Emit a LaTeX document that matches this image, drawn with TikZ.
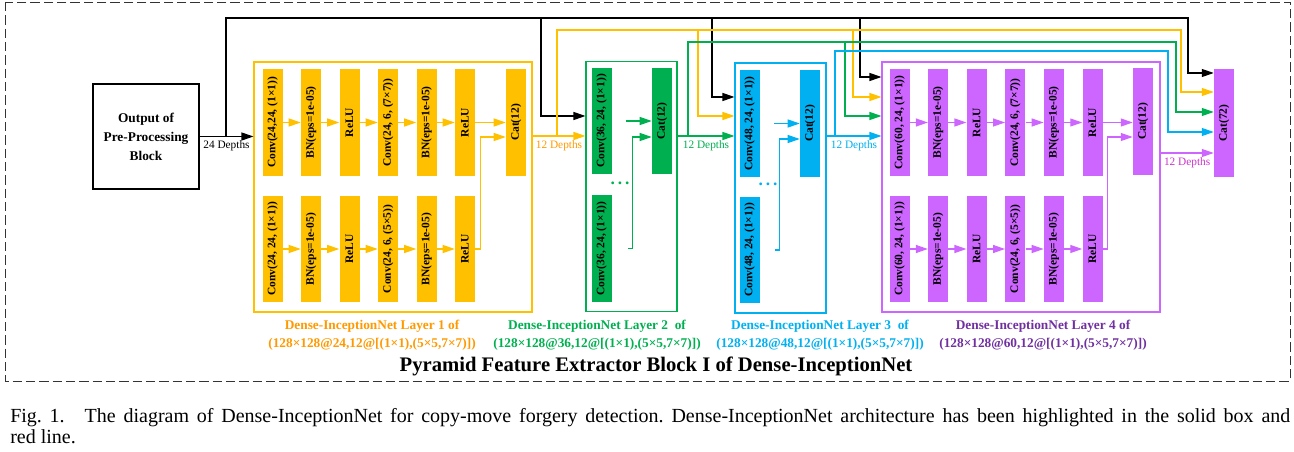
\documentclass[tikz,border=0pt]{standalone}
\usepackage{fontspec}
\setmainfont{Liberation Serif}
\usetikzlibrary{arrows.meta}
\definecolor{dinorange}{RGB}{255,192,0}
\definecolor{dintextorange}{RGB}{255,153,0}
\definecolor{dingreen}{RGB}{0,176,80}
\definecolor{dinblue}{RGB}{0,176,240}
\definecolor{dinviolet}{RGB}{204,102,255}
\definecolor{dintextviolet}{RGB}{112,48,160}
\definecolor{dinmagenta}{RGB}{204,51,204}
\frenchspacing

\begin{document}
\begin{tikzpicture}[x=0.75pt,y=-0.75pt,
    blk/.style={fill=#1,minimum width=15pt,minimum height=80pt,inner sep=0pt,
      font=\bfseries\fontsize{8.6}{9}\selectfont},
    lyr/.style={draw=#1,line width=0.8pt,minimum height=187.5pt,inner sep=0pt},
    flow/.style={draw=#1,line width=0.9pt,-{Triangle[length=9pt,width=6pt,color=#1]}},
    depth/.style={font=\fontsize{8.5}{10}\selectfont,text=#1,below,inner sep=3pt},
    cap/.style={font=\bfseries\fontsize{10}{13.5}\selectfont,text=#1,align=center},
    dots/.style={text=#1,font=\bfseries\fontsize{13}{13}\selectfont,inner sep=0pt}]
\useasboundingbox (0,0) rectangle (1294,452);

\draw[dash pattern=on 7pt off 3pt,line width=0.6pt,black!80] (5,2) rectangle (1290,381);

\node[draw,line width=0.8pt,minimum width=79.5pt,minimum height=78.75pt,align=center,
  font=\bfseries\fontsize{10}{14.25}\selectfont] (pre) at (146,136.5) {Output of\\Pre-Processing\\Block};

% layer 1
\node[lyr=dinorange,minimum width=208.5pt] (L1) at (393,187) {};
\foreach \txt [count=\i] in {{Conv(24,24, (1×1))},{BN(eps=1e-05)},{ReLU},{Conv(24, 6, (7×7))},{BN(eps=1e-05)},{ReLU}}
  \node[blk=dinorange] (a\i) at ({272.5+38.5*(\i-1)},122.5) {\rotatebox{90}{\txt}};
\foreach \txt [count=\i] in {{Conv(24, 24, (1×1))},{BN(eps=1e-05)},{ReLU},{Conv(24, 6, (5×5))},{BN(eps=1e-05)},{ReLU}}
  \node[blk=dinorange] (b\i) at ({272.5+38.5*(\i-1)},249) {\rotatebox{90}{\txt}};
\node[blk=dinorange] (c1) at (516,122.5) {\rotatebox{90}{Cat(12)}};
\foreach \i/\j in {1/2,2/3,3/4,4/5,5/6} {
  \draw[flow=dinorange] (a\i) -- (a\j);
  \draw[flow=dinorange] (b\i) -- (b\j);
}
\draw[flow=dinorange] (a6) -- (c1);
\draw[flow=dinorange] (b6.east) -- ++(5,0) |- (c1.west |- 0,137);

% layer 2
\node[lyr=dingreen,minimum width=68.25pt] (L2) at (631.5,186.5) {};
\node[blk=dingreen] (e1) at (601.5,121) {\rotatebox{90}{Conv(36, 24, (1×1))}};
\node[blk=dingreen] (e2) at (601.5,248.5) {\rotatebox{90}{Conv(36, 24, (1×1))}};
\node[blk=dingreen] (c2) at (662,121) {\rotatebox{90}{Cat(12)}};
\node[dots=dingreen] (g2) at (620,183) {.\,.\,.};
\draw[flow=dingreen] ([xshift=10.5pt]e1.east) -- (c2);
\draw[flow=dingreen] ([xshift=12pt]e2.east) -- ++(5,0) |- (c2.west |- 0,137);

% layer 3
\node[lyr=dinblue,minimum width=68.25pt] (L3) at (780.5,188) {};
\node[blk=dinblue] (f1) at (749.5,123.5) {\rotatebox{90}{Conv(48, 24, (1×1))}};
\node[blk=dinblue] (f2) at (749.5,250) {\rotatebox{90}{Conv(48, 24, (1×1))}};
\node[blk=dinblue] (c3) at (810,123.5) {\rotatebox{90}{Cat(12)}};
\node[dots=dinblue] (g3) at (768,184) {.\,.\,.};
\draw[flow=dinblue] ([xshift=11pt]f1.east) -- (c3);
\draw[flow=dinblue] ([xshift=11.5pt]f2.east) -- ++(4,0) |- (c3.west |- 0,139);

% layer 4
\node[lyr=dinviolet,minimum width=208.5pt] (L4) at (1021,187) {};
\foreach \txt [count=\i] in {{Conv(60, 24, (1×1))},{BN(eps=1e-05)},{ReLU},{Conv(24, 6, (7×7))},{BN(eps=1e-05)},{ReLU}}
  \node[blk=dinviolet] (d\i) at ({899.5+38.6*(\i-1)},122.5) {\rotatebox{90}{\txt}};
\foreach \txt [count=\i] in {{Conv(60, 24, (1×1))},{BN(eps=1e-05)},{ReLU},{Conv(24, 6, (5×5))},{BN(eps=1e-05)},{ReLU}}
  \node[blk=dinviolet] (h\i) at ({899.5+38.6*(\i-1)},249) {\rotatebox{90}{\txt}};
\node[blk=dinviolet] (c4) at (1143,121.5) {\rotatebox{90}{Cat(12)}};
\foreach \i/\j in {1/2,2/3,3/4,4/5,5/6} {
  \draw[flow=dinviolet] (d\i) -- (d\j);
  \draw[flow=dinviolet] (h\i) -- (h\j);
}
\draw[flow=dinviolet] (d6) -- (c4.west |- d6);
\draw[flow=dinviolet] (h6.east) -- ++(4.5,0) |- (c4.west |- 0,137);

\node[blk=dinviolet,minimum height=81pt] (cat) at (1224,123) {\rotatebox{90}{Cat(72)}};

% dense connections
\draw[flow=black] (pre) -- (L1.west |- pre) node[midway,depth=black] {24 Depths};
\draw[flow=black] (226,136.5) |- (1188,18) |- (cat.west |- 0,73);
\draw[flow=black] (541,18) |- (L2.west |- 0,116);
\draw[flow=black] (712,18) |- (L3.west |- 0,97);
\draw[flow=black] (860,18) |- (L4.west |- 0,77);

\draw[flow=dinorange] (L1.east |- 0,136) -- (L2.west |- 0,136) node[midway,depth=dintextorange] {12 Depths};
\draw[flow=dinorange] (557,136) |- (1181,30) |- (cat.west |- 0,92);
\draw[flow=dinorange] (698,30) |- (L3.west |- 0,116);
\draw[flow=dinorange] (853,30) |- (L4.west |- 0,97);

\draw[flow=dingreen] (L2.east |- 0,136) -- (L3.west |- 0,136) node[midway,depth=dingreen] {12 Depths};
\draw[flow=dingreen] (688,136) |- (1176,42) |- (cat.west |- 0,112);
\draw[flow=dingreen] (845,42) |- (L4.west |- 0,116);

\draw[flow=dinblue] (L3.east |- 0,136) -- (L4.west |- 0,136) node[midway,depth=dinblue] {12 Depths};
\draw[flow=dinblue] (835,136) |- (1168,51) |- (cat.west |- 0,132);

\draw[flow=dinviolet] (L4.east |- 0,153) -- (cat.west |- 0,153) node[midway,depth=dinmagenta] {12 Depths};

% captions
\node[cap=dintextorange] (t1) at (372,335) {Dense-InceptionNet Layer 1 of\\(128×128@24,12@[(1×1),(5×5,7×7)])};
\node[cap=dingreen] (t2) at (597,335) {Dense-InceptionNet Layer 2~ of\\(128×128@36,12@[(1×1),(5×5,7×7)])};
\node[cap=dinblue] (t3) at (820,335) {Dense-InceptionNet Layer 3~ of\\(128×128@48,12@[(1×1),(5×5,7×7)])};
\node[cap=dintextviolet] (t4) at (1043,335) {Dense-InceptionNet Layer 4 of\\(128×128@60,12@[(1×1),(5×5,7×7)])};
\node[font=\bfseries\fontsize{15.5}{17}\selectfont] (ttl) at (656,366) {Pyramid Feature Extractor Block I of Dense-InceptionNet};

\node[anchor=north west,inner sep=0pt,align=left,
  font=\fontsize{15}{15.75}\selectfont] (fig) at (10,408)
  {\makebox[960pt][s]{Fig.~1.\quad The diagram of Dense-InceptionNet for copy-move forgery detection. Dense-InceptionNet architecture has been highlighted in the solid box and}\\red line.};
\end{tikzpicture}
\end{document}
